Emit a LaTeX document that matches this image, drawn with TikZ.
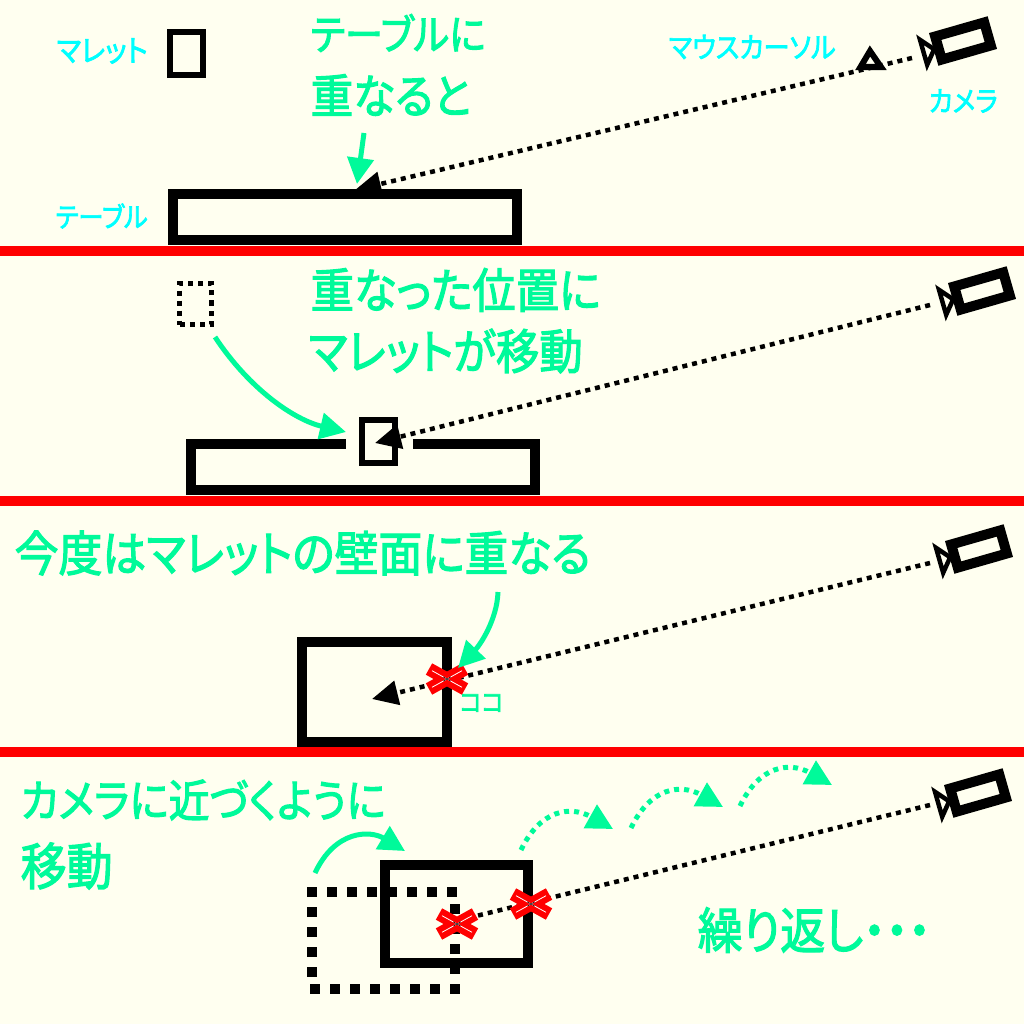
\documentclass[tikz,border=0pt]{standalone}
\usepackage{fontspec}
\setmainfont[RawFeature=+palt]{Noto Sans CJK JP}
\newfontfamily\medfont[RawFeature=+palt,FakeBold=2.5]{Noto Sans CJK JP}
\usepackage{graphicx}
\usetikzlibrary{arrows.meta}
\definecolor{bgc}{HTML}{FFFFF0}
\definecolor{grn}{HTML}{00FA9A}
\definecolor{cyn}{HTML}{00FFFF}
\tikzset{
 x=0.01cm,y=-0.01cm,
 bigtxt/.style={anchor=west,inner sep=0pt,text=grn,font=\medfont\fontsize{11.7pt}{14pt}\selectfont},
 smalltxt/.style={anchor=west,inner sep=0pt,text=cyn,font=\medfont\fontsize{6.6pt}{8pt}\selectfont},
 box/.style={draw=black,rectangle,inner sep=0pt,line width=#1},
 sight/.style={draw=black,line width=0.045cm,dash pattern=on 0.05cm off 0.05cm},
 sightarrow/.style={sight,-{Triangle[length=0.26cm,width=0.24cm]}},
 flow/.style={draw=grn,line width=0.05cm,-{Triangle[length=0.26cm,width=0.26cm,fill=grn]}},
 dflow/.style={flow,dash pattern=on 0.05cm off 0.05cm},
 squaredots/.style={draw=black,line width=0.1cm,dash pattern=on 0.1cm off 0.1cm},
 redline/.style={draw=red,line width=0.13cm},
 whiteline/.style={draw=white,line width=0.008cm},
 blackline/.style={draw=black,line width=0.005cm},
 sep/.style={fill=red,draw=none},
}
\newcommand{\fw}[2]{\scalebox{1}[1.1]{\resizebox{#1\dimexpr 0.01cm\relax}{!}{#2}}}
\newcommand{\camerapic}[3]{%
 \begin{scope}[shift={(#1,#2)},rotate=#3]
  \draw[black,line width=0.1cm] (-25.5,-12) rectangle (25.5,12);
  \draw[black,line width=0.045cm,line join=miter] (-30,0) -- (-41,-13) -- (-41,13) -- cycle;
 \end{scope}}
\newcommand{\crossmark}[2]{%
 \begin{scope}[shift={(#1,#2)}]
  \draw[redline] (-18,-10) -- (18,10);
  \draw[redline] (-18,10) -- (18,-10);
  \draw[whiteline] (-15,-8.3) -- (15,8.3);
  \draw[whiteline] (-15,8.3) -- (15,-8.3);
  \draw[blackline] (-4,-2.2) -- (4,2.2);
  \draw[blackline] (-4,2.2) -- (4,-2.2);
 \end{scope}}
\begin{document}
\begin{tikzpicture}
\fill[bgc] (0,0) rectangle (1024,1024);
\useasboundingbox (0,0) rectangle (1024,1024);
% separators
\node[sep,minimum width=10.24cm,minimum height=0.1cm,inner sep=0pt] (s1) at (512,251) {};
\node[sep,minimum width=10.24cm,minimum height=0.1cm,inner sep=0pt] (s2) at (512,501) {};
\node[sep,minimum width=10.24cm,minimum height=0.1cm,inner sep=0pt] (s3) at (512,752) {};

% panel 1
\node[box=0.06cm,minimum width=0.33cm,minimum height=0.43cm] (m1) at (186.5,53.5) {};
\node[box=0.1cm,minimum width=3.44cm,minimum height=0.46cm] (t1) at (345,217) {};
\node[smalltxt] (l1) at (56,51) {\fw{91}{マレット}};
\node[smalltxt] (l2) at (55,216) {\fw{92}{テーブル}};
\node[smalltxt] (l3) at (668,47) {\fw{167}{マウスカーソル}};
\node[smalltxt] (l4) at (928,101) {\fw{69}{カメラ}};
\node[bigtxt] (h1) at (310,33) {\fw{175}{テーブルに}};
\node[bigtxt] (h2) at (310,95) {\fw{160}{重なると}};
\camerapic{963}{41}{16}
\coordinate (c1) at (912,58);
\coordinate (p1) at (355,190);
\path[sightarrow] (c1) -- (p1);
\draw[black,line width=0.06cm,line join=miter] (870,51) -- (860.5,67) -- (881,67) -- cycle;
\coordinate (a1s) at (364,133);
\coordinate (a1e) at (357,184);
\path[flow] (a1s) -- (a1e);

% panel 2
\node[box=0.1cm,minimum width=3.44cm,minimum height=0.46cm] (t2) at (363,467) {};
\fill[bgc] (346,430) rectangle (413,452);
\node[box=0.06cm,minimum width=0.33cm,minimum height=0.43cm] (m2) at (378.5,441.5) {};
\node[box=0.05cm,dash pattern=on 0.05cm off 0.05cm,minimum width=0.31cm,minimum height=0.41cm] (m2d) at (195.5,304) {};
\node[bigtxt] (h3) at (310,290) {\fw{290}{重なった位置に}};
\node[bigtxt] (h4) at (308,351) {\fw{274}{マレットが移動}};
\camerapic{982}{291}{16}
\coordinate (c2) at (930,305);
\coordinate (p2) at (375,443);
\path[sightarrow] (c2) -- (p2);
\coordinate (a2s) at (215,337);
\coordinate (a2e) at (346,432);
\path[flow] (a2s) .. controls (250,390) and (295,420) .. (a2e);

% panel 3
\node[box=0.1cm,minimum width=1.45cm,minimum height=1cm] (m3) at (374.5,692) {};
\node[bigtxt] (h5) at (14,553) {\fw{576}{今度はマレットの壁面に重なる}};
\node[smalltxt,text=grn] (l5) at (459,703) {\fw{44}{ココ}};
\camerapic{979}{549}{16}
\coordinate (c3) at (930,563);
\coordinate (p3) at (372,699);
\path[sightarrow] (c3) -- (p3);
\crossmark{447}{679}
\coordinate (a3s) at (498,592);
\coordinate (a3e) at (458,668);
\path[flow] (a3s) .. controls (497,620) and (480,645) .. (a3e);

% panel 4
\path[squaredots] (307,892) -- (457,892);
\path[squaredots] (312,907) -- (312,977);
\path[squaredots] (310,989) -- (460,989);
\path[squaredots] (455,904) -- (455,974);
\node[box=0.1cm,minimum width=1.43cm,minimum height=0.98cm] (m4) at (456.5,914) {};
\node[bigtxt] (h6) at (20,800) {\fw{365}{カメラに近づくように}};
\node[bigtxt] (h7) at (20,866) {\fw{92}{移動}};
\node[bigtxt] (h8) at (697,930) {\fw{233}{繰り返し・・・}};
\camerapic{978}{793}{16}
\coordinate (c4) at (930,805);
\coordinate (p4) at (472,917);
\path[sight] (c4) -- (p4);
\crossmark{531}{904}
\crossmark{457}{924}
\coordinate (a4s) at (315,873);
\coordinate (a4e) at (405,851);
\path[flow] (a4s) .. controls (335,830) and (370,830) .. (a4e);
\foreach \n/\dx/\dy in {a/0/0,b/110/-22,c/219/-44}{
 \coordinate (e\n s) at (521+\dx,850+\dy);
 \coordinate (e\n e) at (613+\dx,829+\dy);
 \path[dflow] (e\n s) .. controls (540+\dx,810+\dy) and (570+\dx,805+\dy) .. (e\n e);
}
\end{tikzpicture}
\end{document}
